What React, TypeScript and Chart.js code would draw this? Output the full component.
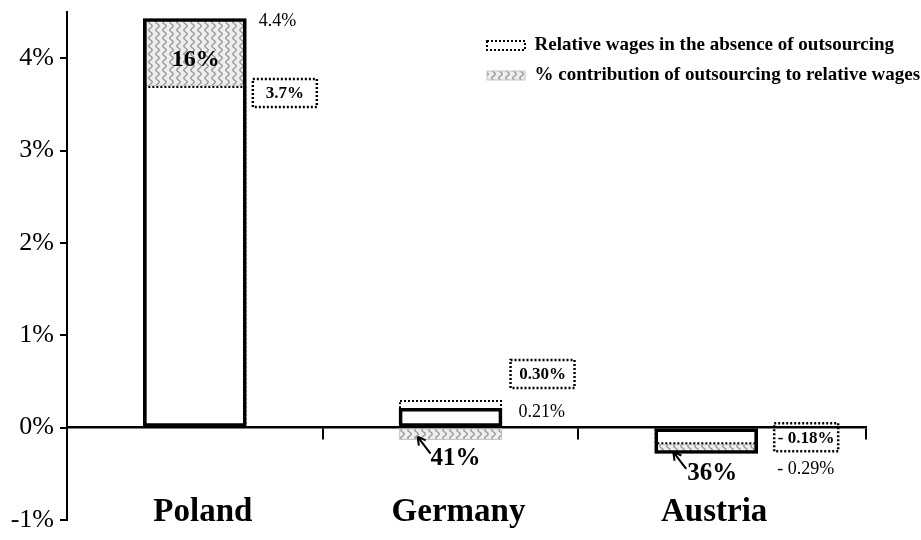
import React, { useEffect, useRef } from 'react';
import { Chart, registerables } from 'chart.js';

Chart.register(...registerables);

// ---------- data ----------
const categories = ['Poland', 'Germany', 'Austria'];
const relativeWages = [4.43, 0.21, -0.28];
const absenceWages = [3.7, 0.3, -0.18];
const contributionStart = [3.7, 0, -0.18];
const contributionEnd = [4.43, -0.13, -0.28];
const valueLabels = ['4.4%', '0.21%', '- 0.29%'];
const absenceLabels = ['3.7%', '0.30%', '- 0.18%'];
const contributionLabels = ['16%', '41%', '36%'];
const seriesNames = [
  'Relative wages in the absence of outsourcing',
  '% contribution of outsourcing to relative wages',
];
const yTickValues = [-1, 0, 1, 2, 3, 4];
const xDividerValues = [0.5, 1.5, 2.625];

// ---------- style / layout ----------
const SERIF = '"Liberation Serif", "Times New Roman", serif';
const X_MIN = -0.5;
const X_MAX = 2.625;
const LABEL_SHIFT = 8 / 256;
const VALUE_OFFSETS = [[64, 3], [68, 4], [71, 16]];
const ABSENCE_OFFSETS = [[90, 7], [92, -26], [100, -7]];
const CONTRIB_OFFSETS = [[1, 8], [5, 25], [6, 25]];
const CONTRIB_SIZES = [24, 25, 25];
const ARROW_TAIL = [-20, 20];
const ARROW_HEAD = [-33, 3];

function makeWavePattern(): CanvasPattern | string {
  const c = document.createElement('canvas');
  c.width = 7;
  c.height = 8;
  const g = c.getContext('2d');
  if (!g) return '#dddddd';
  g.fillStyle = '#eeeeee';
  g.fillRect(0, 0, 7, 8);
  g.strokeStyle = '#999999';
  g.lineWidth = 1.4;
  g.beginPath();
  for (let y = -1; y <= 9; y += 0.5) {
    const x = 3.5 + 1.7 * Math.sin((2 * Math.PI * y) / 8);
    if (y === -1) g.moveTo(x, y);
    else g.lineTo(x, y);
  }
  g.stroke();
  const p = g.createPattern(c, 'repeat');
  return p || '#dddddd';
}

const zeroPadding = (s: any) => {
  s.paddingTop = 0;
  s.paddingBottom = 0;
  s.paddingLeft = 0;
  s.paddingRight = 0;
};

const dottedBoxes = {
  id: 'dottedBoxes',
  afterDatasetDraw(chart: any, args: any) {
    if (args.index !== 1) return;
    const ctx = chart.ctx;
    ctx.save();
    ctx.strokeStyle = '#000';
    ctx.lineWidth = 2;
    ctx.setLineDash([2, 2]);
    args.meta.data.forEach((el: any) => {
      const { x, y, base, width } = el.getProps(['x', 'y', 'base', 'width'], true);
      const left = x - width / 2;
      const top = Math.min(y, base);
      const h = Math.abs(base - y);
      ctx.strokeRect(left + 1, top + 1, width - 2, h - 2);
    });
    ctx.restore();
  },
};

const legendPlacer = {
  id: 'legendPlacer',
  afterLayout(chart: any) {
    const lg = chart.legend;
    if (!lg) return;
    lg.left = 476;
    lg.top = 25;
    lg.right = 921;
    lg.bottom = 110;
    lg.width = 445;
    lg.height = 85;
  },
};

const annotations = {
  id: 'annotations',
  afterDatasetsDraw(chart: any) {
    const ctx = chart.ctx;
    const xs = chart.scales.x;
    const ys = chart.scales.y;
    ctx.save();
    ctx.fillStyle = '#000';
    ctx.strokeStyle = '#000';
    ctx.textBaseline = 'middle';
    categories.forEach((_, i) => {
      const cx = xs.getPixelForValue(i);
      // value label
      const [vdx, vdy] = VALUE_OFFSETS[i];
      ctx.font = `18px ${SERIF}`;
      ctx.textAlign = 'left';
      ctx.fillText(valueLabels[i], cx + vdx, ys.getPixelForValue(relativeWages[i]) + vdy);
      // boxed absence label
      const [adx, ady] = ABSENCE_OFFSETS[i];
      const bx = cx + adx;
      const by = ys.getPixelForValue(absenceWages[i]) + ady;
      ctx.lineWidth = 2.5;
      ctx.setLineDash([2, 2]);
      ctx.strokeRect(bx - 32, by - 14, 64, 28);
      ctx.setLineDash([]);
      ctx.font = `bold 17px ${SERIF}`;
      ctx.textAlign = 'center';
      ctx.fillText(absenceLabels[i], bx, by + 1);
      // contribution label
      const mid = (ys.getPixelForValue(contributionStart[i]) + ys.getPixelForValue(contributionEnd[i])) / 2;
      const [cdx, cdy] = CONTRIB_OFFSETS[i];
      ctx.font = `bold ${CONTRIB_SIZES[i]}px ${SERIF}`;
      ctx.textAlign = 'center';
      ctx.fillText(contributionLabels[i], cx + cdx, mid + cdy);
      if (i > 0) {
        const tx = cx + ARROW_TAIL[0];
        const ty = mid + ARROW_TAIL[1];
        const hx = cx + ARROW_HEAD[0];
        const hy = mid + ARROW_HEAD[1];
        ctx.lineWidth = 2;
        ctx.beginPath();
        ctx.moveTo(tx, ty);
        ctx.lineTo(hx, hy);
        const ang = Math.atan2(hy - ty, hx - tx);
        const len = 9;
        ctx.moveTo(hx, hy);
        ctx.lineTo(hx - len * Math.cos(ang - 0.5), hy - len * Math.sin(ang - 0.5));
        ctx.moveTo(hx, hy);
        ctx.lineTo(hx - len * Math.cos(ang + 0.5), hy - len * Math.sin(ang + 0.5));
        ctx.stroke();
      }
    });
    ctx.restore();
  },
};

export default function App() {
  const ref = useRef<HTMLCanvasElement | null>(null);

  useEffect(() => {
    if (!ref.current) return;
    const pattern = makeWavePattern();
    const chart = new Chart(ref.current, {
      type: 'bar',
      data: {
        datasets: [
          {
            label: seriesNames[1],
            data: categories.map((_, i) => ({ x: i, y: [contributionStart[i], contributionEnd[i]] })) as any,
            backgroundColor: pattern as any,
            borderColor: '#c4c4c4',
            borderWidth: 1,
            borderSkipped: false,
            order: 3,
            grouped: false,
            barThickness: 103,
            xAxisID: 'x',
            yAxisID: 'y',
          },
          {
            label: seriesNames[0],
            data: categories.map((_, i) => ({ x: i, y: [0, absenceWages[i]] })) as any,
            backgroundColor: 'rgba(0,0,0,0)',
            borderWidth: 0,
            order: 2,
            grouped: false,
            barThickness: 103,
            xAxisID: 'x',
            yAxisID: 'y',
          },
          {
            label: 'Relative wages',
            data: categories.map((_, i) => ({ x: i, y: [0, relativeWages[i]] })) as any,
            backgroundColor: 'rgba(0,0,0,0)',
            borderColor: '#000',
            borderWidth: 3,
            borderSkipped: false,
            order: 1,
            grouped: false,
            barThickness: 103,
            xAxisID: 'x',
            yAxisID: 'y',
          },
        ],
      },
      options: {
        animation: false,
        responsive: false,
        devicePixelRatio: 1,
        layout: { padding: { left: 0, top: 12, right: 55, bottom: 20 } },
        plugins: {
          tooltip: { enabled: false },
          legend: {
            display: true,
            position: 'chartArea',
            align: 'start',
            labels: {
              boxWidth: 38,
              boxHeight: 9,
              padding: 11,
              color: '#000',
              font: { family: SERIF, size: 19, weight: 'bold' },
              generateLabels: () => [
                {
                  text: seriesNames[0],
                  fillStyle: '#ffffff',
                  strokeStyle: '#000',
                  lineWidth: 2,
                  lineDash: [2, 2],
                  hidden: false,
                  datasetIndex: 1,
                  textAlign: 'left',
                } as any,
                {
                  text: seriesNames[1],
                  fillStyle: pattern,
                  strokeStyle: '#c4c4c4',
                  lineWidth: 1,
                  hidden: false,
                  datasetIndex: 0,
                  textAlign: 'left',
                } as any,
              ],
            },
          },
        },
        scales: {
          x: {
            type: 'linear',
            min: X_MIN,
            max: X_MAX,
            position: { y: 0 } as any,
            offset: false,
            afterBuildTicks: (s: any) => {
              s.ticks = xDividerValues.map((v) => ({ value: v }));
            },
            afterFit: zeroPadding,
            ticks: { display: true, autoSkip: false, callback: () => '' },
            grid: {
              display: true,
              offset: false,
              drawOnChartArea: false,
              drawTicks: true,
              tickLength: 11,
              color: '#000',
              lineWidth: 2,
            },
            border: { display: true, color: '#000', width: 2.5 },
          },
          xl: {
            type: 'linear',
            axis: 'x',
            min: X_MIN - LABEL_SHIFT,
            max: X_MAX - LABEL_SHIFT,
            position: { y: 0 } as any,
            offset: false,
            afterBuildTicks: (s: any) => {
              s.ticks = categories.map((_, i) => ({ value: i }));
            },
            afterFit: zeroPadding,
            ticks: {
              autoSkip: false,
              maxRotation: 0,
              padding: 65,
              color: '#000',
              font: { family: SERIF, size: 33, weight: 'bold' },
              callback: (_v: any, i: number) => categories[i],
            },
            grid: { display: false, drawTicks: false, offset: false },
            border: { display: false },
          } as any,
          y: {
            type: 'linear',
            min: -1,
            max: 4.5,
            afterBuildTicks: (s: any) => {
              s.ticks = yTickValues.map((v) => ({ value: v }));
            },
            afterFit: (s: any) => {
              s.width = 67;
              zeroPadding(s);
            },
            ticks: {
              padding: 6,
              color: '#000',
              font: { family: SERIF, size: 26 },
              callback: (v: any) => `${v}%`,
            },
            grid: {
              display: true,
              drawOnChartArea: false,
              drawTicks: true,
              tickLength: 7,
              color: '#000',
              lineWidth: 2,
            },
            border: { display: true, color: '#000', width: 2 },
          },
        },
      },
      plugins: [dottedBoxes, legendPlacer, annotations],
    } as any);
    return () => chart.destroy();
  }, []);

  return (
    <div style={{ position: 'absolute', left: 0, top: 0, width: 921, height: 540, background: '#fff' }}>
      <canvas ref={ref} width={921} height={540} style={{ display: 'block', width: 921, height: 540 }} />
    </div>
  );
}
